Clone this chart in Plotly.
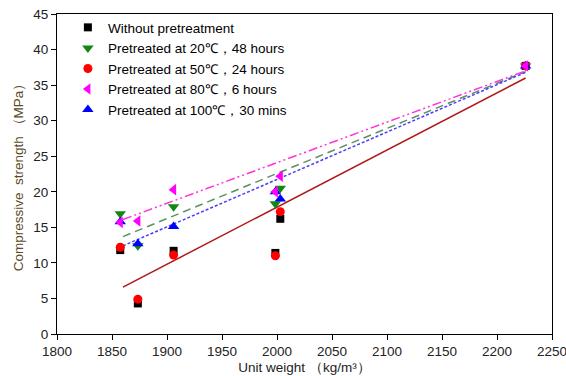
import plotly.graph_objects as go

unit_weight = [1857.5, 1873.5, 1906, 1998.5, 2003, 2226]
without = [11.8, 4.3, 11.7, 11.4, 16.2, 37.7]
pre20 = [16.9, 12.4, 17.9, 18.3, 20.5, 37.7]
pre50 = [12.2, 4.9, 11.1, 11.0, 17.2, 37.7]
pre80 = [15.7, 15.9, 20.3, 20.0, 22.2, 37.7]
pre100 = [15.8, 12.7, 15.1, 20.0, 19.0, 37.7]

fit_x = [1860, 2226]
fit_without = [6.6, 36.0]
fit_20 = [13.7, 36.9]
fit_80 = [16.1, 37.0]
fit_100 = [12.4, 36.8]

names = ["Without pretreatment", "Pretreated at 20℃，48 hours",
         "Pretreated at 50℃，24 hours", "Pretreated at 80℃，6 hours",
         "Pretreated at 100℃，30 mins"]

fig = go.Figure()

# fit lines
fig.add_trace(go.Scatter(x=fit_x, y=fit_without, mode="lines", showlegend=False,
                         line=dict(color="#b01818", width=1.5)))
fig.add_trace(go.Scatter(x=fit_x, y=fit_20, mode="lines", showlegend=False,
                         line=dict(color="#5e8f60", width=1.5, dash="8px,5px")))
fig.add_trace(go.Scatter(x=fit_x, y=fit_100, mode="lines", showlegend=False,
                         line=dict(color="#4a3cff", width=1.5, dash="3px,2px")))
fig.add_trace(go.Scatter(x=fit_x, y=fit_80, mode="lines", showlegend=False,
                         line=dict(color="#ff33dd", width=1.5, dash="9px,3px,2px,3px,2px,3px")))

specs = [
    (without, "square", "#000000", 8, 1),
    (pre20, "triangle-down", "#118811", 10, 2),
    (pre50, "circle", "#ff0000", 9, 3),
    (pre100, "triangle-up", "#0000ff", 10, 5),
    (pre80, "triangle-left", "#ff00ff", 10, 4),
]
for ys, sym, col, sz, rank in specs:
    fig.add_trace(go.Scatter(x=unit_weight, y=ys, mode="markers", name=names[rank - 1],
                             legendrank=rank,
                             marker=dict(symbol=sym, color=col, size=sz, line=dict(width=0))))

axis_common = dict(showline=True, linecolor="#000000", linewidth=1, mirror=True,
                   ticks="outside", ticklen=5, tickcolor="#000000", showgrid=False,
                   zeroline=False, automargin=False, ticklabeloverflow="allow",
                   tickfont=dict(family="Liberation Sans", size=13.5, color="#222222"))

fig.update_layout(
    width=566, height=376,
    margin=dict(l=57, r=14, t=14, b=42),
    plot_bgcolor="white", paper_bgcolor="white",
    xaxis=dict(range=[1800, 2250], dtick=50, **axis_common,
               title=dict(text="Unit weight （kg/m³）", standoff=4,
                          font=dict(family="Liberation Sans", size=13.5, color="#222222"))),
    yaxis=dict(range=[0, 45], dtick=5, **axis_common,
               title=dict(text="Compressive  strength （MPa）", standoff=6,
                          font=dict(family="Liberation Sans", size=13.5, color="#5a4a28"))),
    legend=dict(x=0.022, y=1.006, xanchor="left", yanchor="top",
                bgcolor="rgba(0,0,0,0)", tracegroupgap=0,
                font=dict(family="Liberation Sans", size=13.5, color="#000000")),
    showlegend=True,
)

fig.write_html("out.html")
